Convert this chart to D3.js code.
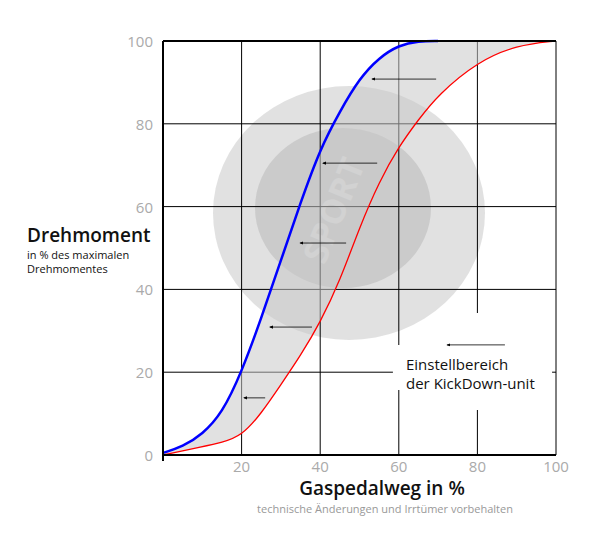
<!DOCTYPE html>
<html><head><meta charset="utf-8">
<script src="https://cdn.jsdelivr.net/npm/d3@7"></script>
<style>body{margin:0;background:#fff}text{font-family:"Open Sans",sans-serif}</style>
</head><body><svg id="c" width="600" height="539"></svg>
<script>
// data
var xTicks = [20, 40, 60, 80, 100];
var yTicks = [0, 20, 40, 60, 80, 100];
var blueX = [0, 5, 10, 15, 20, 25, 30, 35, 40, 45, 50, 55, 60, 65, 70];
var blueY = [0.5, 2, 5, 10, 20, 33, 47, 61, 74, 83, 91, 96, 99, 100, 100];
var redX = [0, 10, 15, 20, 25, 30, 35, 40, 45, 50, 55, 60, 65, 70, 80, 90, 100];
var redY = [0, 2, 3, 4.6, 10, 17, 24, 32, 42, 55, 66, 74.5, 81, 87, 95, 99, 100];
var arrowY = [90.8, 70.5, 51.2, 30.9, 13.8, 26.6];
var arrowFrom = [69.5, 54.5, 46.6, 37.9, 26, 87];
var arrowTo = [53.2, 40.7, 34.9, 27.2, 20.6, 72.3];

var svg = d3.select("#c");
var x = d3.scaleLinear().domain([0, 100]).range([163, 556]);
var y = d3.scaleLinear().domain([0, 100]).range([455, 41]);

// sport button in the background
var g0 = svg.append("g");
g0.append("ellipse").attr("cx", 349).attr("cy", 213).attr("rx", 136).attr("ry", 127).attr("fill", "#d4d4d4").attr("opacity", 0.7);
g0.append("ellipse").attr("cx", 343).attr("cy", 208).attr("rx", 88).attr("ry", 80).attr("fill", "#bdbdbd").attr("opacity", 0.6);
g0.append("text").attr("transform", "translate(345,215) rotate(-68)").attr("text-anchor", "middle")
	.attr("font-size", 34).attr("font-weight", "bold").attr("fill", "#e2e2e2").attr("opacity", 0.8).text("SPORT");

// grid
var grid = svg.append("g").attr("stroke", "#000").attr("stroke-width", 1);
grid.selectAll(".v").data(xTicks).enter().append("line")
	.attr("x1", d => x(d)).attr("x2", d => x(d)).attr("y1", y(100)).attr("y2", y(0));
grid.selectAll(".h").data(yTicks).enter().append("line")
	.attr("x1", x(0)).attr("x2", x(100)).attr("y1", d => y(d)).attr("y2", d => y(d));
// gaps around the label
svg.append("rect").attr("x", x(58.5)).attr("y", 345).attr("width", x(99) - x(58.5)).attr("height", 45).attr("fill", "#fff");
svg.append("rect").attr("x", x(78)).attr("y", 313).attr("width", x(82) - x(78)).attr("height", 97).attr("fill", "#fff");

// band between curves
var blue = blueX.map((v, i) => [v, blueY[i]]);
var red = redX.map((v, i) => [v, redY[i]]);
var line = d3.line().x(d => x(d[0])).y(d => y(d[1])).curve(d3.curveBasis);
function sample(pts){
	var p = document.createElementNS("http://www.w3.org/2000/svg", "path");
	p.setAttribute("d", line(pts));
	var L = p.getTotalLength(), out = [];
	for (var i = 0; i <= 200; i++) { var q = p.getPointAtLength(L * i / 200); out.push([x.invert(q.x), y.invert(q.y)]); }
	return out;
}
svg.append("path").attr("d", d3.line().x(d => x(d[0])).y(d => y(d[1]))(
		sample(blue).concat([[100, 100]]).concat(sample(red).reverse())))
	.attr("fill", "#c8c8c8").attr("opacity", 0.55);

svg.append("path").attr("d", line(red)).attr("fill", "none").attr("stroke", "#f00").attr("stroke-width", 1.3);
svg.append("path").attr("d", line(blue)).attr("fill", "none").attr("stroke", "#00f").attr("stroke-width", 2.5);

// frame
svg.append("line").attr("x1", x(0)).attr("x2", x(0)).attr("y1", y(100)).attr("y2", y(0) + 6).attr("stroke", "#000").attr("stroke-width", 2);
svg.append("line").attr("x1", x(0)).attr("x2", x(100)).attr("y1", y(100)).attr("y2", y(100)).attr("stroke", "#000").attr("stroke-width", 2);
svg.append("line").attr("x1", x(0)).attr("x2", x(100)).attr("y1", y(0)).attr("y2", y(0)).attr("stroke", "#000").attr("stroke-width", 2);

// arrows
svg.append("defs").append("marker").attr("id", "ah").attr("viewBox", "0 0 10 10").attr("refX", 8).attr("refY", 5)
	.attr("markerWidth", 5).attr("markerHeight", 5).attr("orient", "auto")
	.append("path").attr("d", "M0,1L10,5L0,9Z").attr("fill", "#000");
svg.selectAll(".ar").data(arrowY).enter().append("line")
	.attr("x1", (d, i) => x(arrowFrom[i])).attr("x2", (d, i) => x(arrowTo[i]))
	.attr("y1", d => y(d)).attr("y2", d => y(d))
	.attr("stroke", "#000").attr("stroke-width", 0.8).attr("marker-end", "url(#ah)");

// tick labels
svg.selectAll(".yl").data(yTicks).enter().append("text")
	.attr("x", 153).attr("y", d => y(d) + 6).attr("text-anchor", "end")
	.attr("font-size", 15).attr("fill", "#aaa").text(d => d);
svg.selectAll(".xl").data(xTicks).enter().append("text")
	.attr("x", d => x(d)).attr("y", 472).attr("text-anchor", "middle")
	.attr("font-size", 15).attr("fill", "#aaa").text(d => d);

// titles
svg.append("text").attr("x", 406).attr("y", 370).attr("font-size", 15).attr("fill", "#111").text("Einstellbereich");
svg.append("text").attr("x", 406).attr("y", 389).attr("font-size", 15).attr("fill", "#111").text("der KickDown-unit");
svg.append("text").attr("x", 27).attr("y", 242).attr("font-size", 19).attr("font-weight", "600").attr("fill", "#111").text("Drehmoment");
svg.append("text").attr("x", 27).attr("y", 259).attr("font-size", 11).attr("fill", "#111").text("in % des maximalen");
svg.append("text").attr("x", 27).attr("y", 273).attr("font-size", 11).attr("fill", "#111").text("Drehmomentes");
svg.append("text").attr("x", 382).attr("y", 495).attr("text-anchor", "middle").attr("font-size", 19).attr("font-weight", "600").attr("fill", "#111").text("Gaspedalweg in %");
svg.append("text").attr("x", 385).attr("y", 513).attr("text-anchor", "middle").attr("font-size", 11).attr("fill", "#999").text("technische Änderungen und Irrtümer vorbehalten");
</script></body></html>
